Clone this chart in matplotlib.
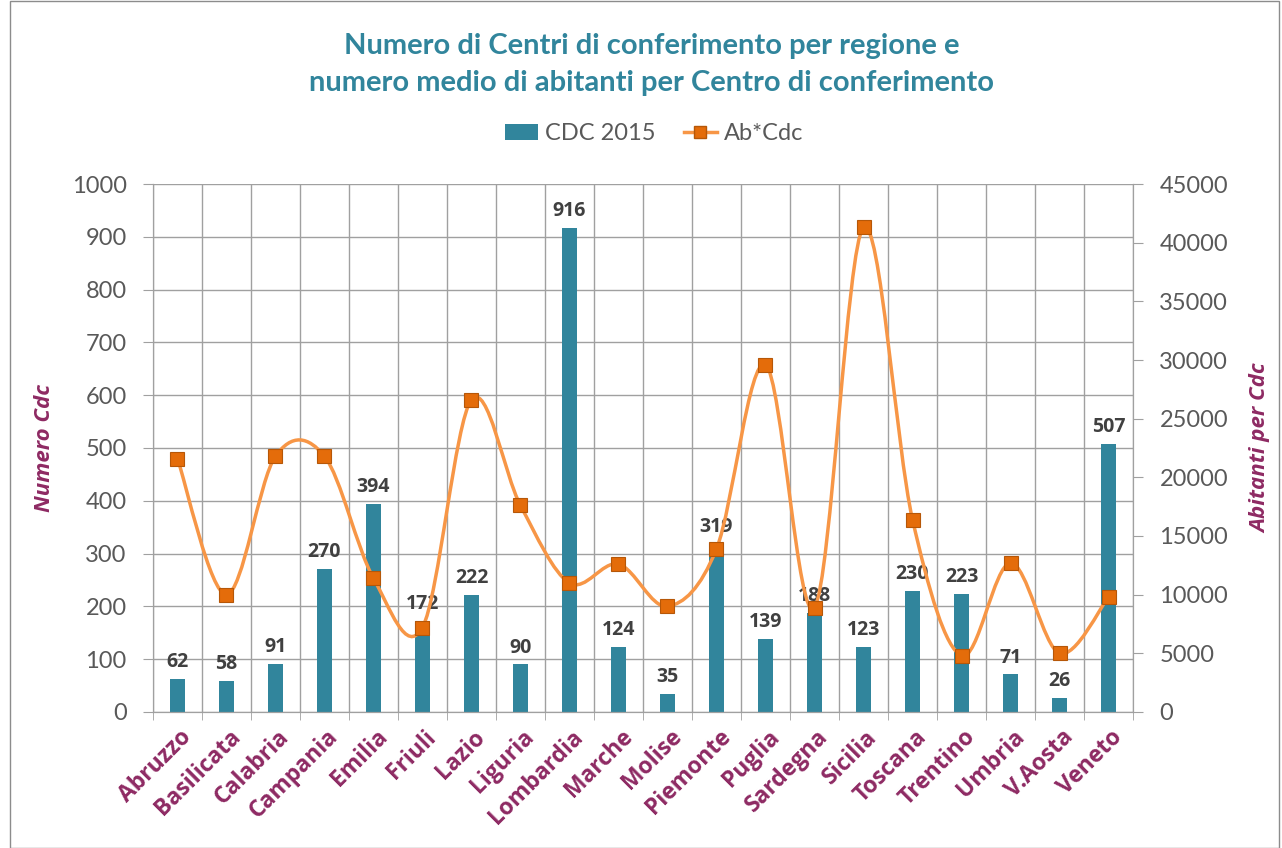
import matplotlib
matplotlib.use("Agg")
import matplotlib.pyplot as plt
import matplotlib.transforms as mtransforms
from matplotlib.path import Path
from matplotlib.patches import PathPatch, Rectangle
from matplotlib.lines import Line2D
from matplotlib.patches import Patch
import numpy as np

regions = ["Abruzzo", "Basilicata", "Calabria", "Campania", "Emilia", "Friuli", "Lazio",
           "Liguria", "Lombardia", "Marche", "Molise", "Piemonte", "Puglia", "Sardegna",
           "Sicilia", "Toscana", "Trentino", "Umbria", "V.Aosta", "Veneto"]
cdc_2015 = [62, 58, 91, 270, 394, 172, 222, 90, 916, 124, 35, 319, 139, 188, 123, 230, 223, 71, 26, 507]
ab_per_cdc = [21600, 10000, 21800, 21800, 11400, 7200, 26600, 17600, 11000, 12600,
              9000, 13900, 29600, 8900, 41300, 16400, 4800, 12700, 5000, 9800]

plt.rcParams['font.family'] = ['Lato', 'DejaVu Sans']
BOLDFONT = ['Open Sans', 'DejaVu Sans']

TEAL = "#31859C"
ORANGE = "#F79646"
MARK = "#E46C0A"
PURPLE = "#8E2A63"
GRAY = "#595959"
GRID = "#A0A0A0"

fig = plt.figure(figsize=(12.82, 8.48), dpi=100)
fig.patches.append(Rectangle((0.008, 0.0), 0.99, 0.999, transform=fig.transFigure,
                             fill=False, edgecolor="#8c8c8c", linewidth=1.0))
ax = fig.add_axes([0.1193, 0.1604, 0.7645, 0.6226])
ax2 = ax.twinx()

x = np.arange(len(regions))
bars = ax.bar(x, cdc_2015, width=0.3, color=TEAL, zorder=2)
ax.set_xlim(-0.5, len(regions) - 0.5)
ax.set_ylim(0, 1000)
ax.set_yticks(np.arange(0, 1001, 100))
ax2.set_ylim(0, 45000)
ax2.set_yticks(np.arange(0, 45001, 5000))

# grid
ax.set_xticks(np.arange(-0.5, len(regions), 1.0), minor=True)
ax.grid(True, which="minor", axis="x", color=GRID, linewidth=1.0, zorder=0)
ax.grid(True, which="major", axis="y", color=GRID, linewidth=1.0, zorder=0)
ax.set_axisbelow(True)
ax.set_xticks(x)
ax.set_xticklabels(regions, rotation=45, ha="right", rotation_mode="anchor",
                   fontsize=16.5, fontweight="bold", color=PURPLE, family=BOLDFONT)
ax.tick_params(axis="x", which="major", length=0, pad=8)
ax.tick_params(axis="x", which="minor", length=6, color=GRID, direction="out")
ax.tick_params(axis="y", length=7, color=GRID, labelsize=17, labelcolor=GRAY, pad=12)
ax2.tick_params(axis="y", length=7, color=GRID, labelsize=17, labelcolor=GRAY, pad=12)
offset = mtransforms.ScaledTranslation(0.02, -0.02, fig.dpi_scale_trans)
for lbl in ax.get_xticklabels():
    lbl.set_transform(lbl.get_transform() + offset)
for a in (ax, ax2):
    a.spines["top"].set_visible(False)
    a.spines["left"].set_color(GRID)
    a.spines["right"].set_color(GRID)
    a.spines["bottom"].set_color(GRID)

ax.set_ylabel("Numero Cdc", fontsize=16, fontweight="bold", fontstyle="italic",
              color=PURPLE, labelpad=12, family=BOLDFONT)
ax2.set_ylabel("Abitanti per Cdc", fontsize=16, fontweight="bold", fontstyle="italic",
               color=PURPLE, labelpad=16, family=BOLDFONT)

for xi, v in zip(x, cdc_2015):
    ax.annotate(str(v), (xi, v), xytext=(0, 5), textcoords="offset points",
                ha="center", va="bottom", fontsize=14, fontweight="bold", color="#404040",
                zorder=5, family=BOLDFONT)

# smoothed line (Excel-like Bezier)
pts = np.column_stack([x, ab_per_cdc]).astype(float)
n = len(pts)
verts = [tuple(pts[0])]
codes = [Path.MOVETO]
for i in range(n - 1):
    p0 = pts[i - 1] if i > 0 else pts[i]
    p1 = pts[i]
    p2 = pts[i + 1]
    p3 = pts[i + 2] if i + 2 < n else pts[i + 1]
    c1 = p1 + (p2 - p0) / 6.0
    c2 = p2 - (p3 - p1) / 6.0
    verts += [tuple(c1), tuple(c2), tuple(p2)]
    codes += [Path.CURVE4] * 3
ax2.add_patch(PathPatch(Path(verts, codes), facecolor="none", edgecolor=ORANGE,
                        linewidth=2.5, zorder=3))
ax2.plot(x, ab_per_cdc, linestyle="none", marker="s", markersize=10,
         markerfacecolor=MARK, markeredgecolor="#B65708", markeredgewidth=0.8, zorder=4)

fig.text(0.508, 0.946, "Numero di Centri di conferimento per regione e",
         ha="center", va="center", fontsize=21, fontweight="bold", color=TEAL)
fig.text(0.508, 0.902, "numero medio di abitanti per Centro di conferimento",
         ha="center", va="center", fontsize=21, fontweight="bold", color=TEAL)

handles = [Patch(facecolor=TEAL, edgecolor="none"),
           Line2D([0], [0], color=ORANGE, linewidth=2.5, marker="s", markersize=9,
                  markerfacecolor=MARK, markeredgecolor="#B65708")]
fig.legend(handles, ["CDC 2015", "Ab*Cdc"], loc="center", bbox_to_anchor=(0.51, 0.842),
           ncol=2, frameon=False, fontsize=17, labelcolor=GRAY, handlelength=1.4,
           handletextpad=0.3, columnspacing=1.2)

fig.savefig("out.png", dpi=100)
